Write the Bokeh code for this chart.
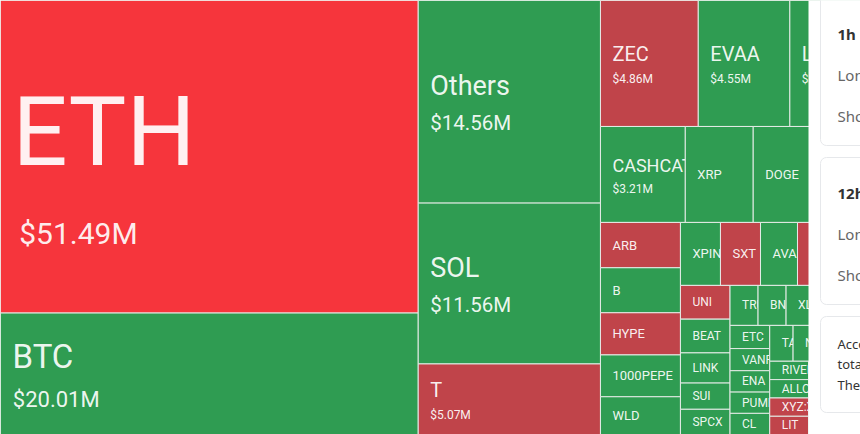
import math
from bokeh.plotting import figure
from bokeh.models import Range1d
from bokeh.embed import file_html
from bokeh.resources import INLINE
from bokeh.core.properties import value

# ---------------- data (liquidations, $M) ----------------
# Order as laid out by the treemap (descending); blank names are tiles hidden under the side panel.
names = ["ETH", "BTC", "Others", "SOL", "T", "ZEC", "EVAA", "LTC",
         "CASHCAT", "XRP", "DOGE", "",
         "ARB", "B", "HYPE", "1000PEPE", "WLD",
         "XPIN", "SXT", "AVAX", "", "",
         "UNI", "BEAT", "LINK", "SUI", "SPCX",
         "TRUMP", "BNB", "XLM", "", "",
         "ETC", "VANRY", "ENA", "PUMP", "CL",
         "TAO", "NEAR", "", "",
         "RIVER", "ALLO", "XYZ:XYZ100", "LIT",
         ""]
values = [51.49, 20.01, 14.56, 11.56, 5.07, 4.86, 4.55, 3.51,
          3.21, 2.57, 2.20, 1.86,
          1.43, 1.42, 1.33, 1.32, 1.19,
          0.994, 0.994, 0.919, 0.85, 0.715,
          0.66, 0.66, 0.59, 0.513, 0.493,
          0.442, 0.442, 0.42, 0.377, 0.377,
          0.363, 0.347, 0.335, 0.333, 0.331,
          0.33, 0.325, 0.32, 0.308,
          0.281, 0.281, 0.28, 0.279,
          1.501]
tones = ["hot", "up", "up", "up", "down", "down", "up", "up",
         "up", "up", "up", "up",
         "down", "up", "down", "up", "up",
         "up", "down", "up", "down", "up",
         "down", "up", "up", "up", "up",
         "up", "up", "up", "up", "up",
         "up", "up", "up", "up", "up",
         "up", "up", "up", "up",
         "up", "up", "down", "down",
         "up"]

panel_cards = [["1h", "Long", "Short"], ["12h", "Long", "Short"]]
panel_note = ["According", "total", "The"]

# ---------------- styling / layout ----------------
W, H = 860, 434
CLIP = 808
COLORS = {"hot": "#F6353C", "down": "#C0444A", "up": "#2F9C52"}
FONT = "Roboto"
GOLDEN = 0.5 * (1 + math.sqrt(5))


def worst(row_areas, row_area, fixed, ratio):
    sq = row_area * row_area
    f = fixed * fixed * ratio
    if not sq:
        return math.inf
    return max(f * max(row_areas) / sq, sq / (f * min(row_areas)))


def squarify(vals, x, y, w, h, ratio=GOLDEN):
    total = sum(vals)
    areas = [v * w * h / total for v in vals]
    rect = {"x": x, "y": y, "w": w, "h": h}
    boxes = [None] * len(vals)

    def place(row, row_area, fixed, flush):
        horiz = fixed == rect["w"]
        other = row_area / fixed if fixed else 0
        span = rect["h"] if horiz else rect["w"]
        if flush or other > span:
            other = span
        start = rect["x"] if horiz else rect["y"]
        end = start + (rect["w"] if horiz else rect["h"])
        last = start
        for j, i in enumerate(row):
            step = areas[i] / other if other else 0
            remain = end - last
            mod = remain if (j == len(row) - 1 or remain < step) else step
            if horiz:
                boxes[i] = (last, rect["y"], mod, other)
            else:
                boxes[i] = (rect["x"], last, other, mod)
            last += mod
        if horiz:
            rect["y"] += other
            rect["h"] -= other
        else:
            rect["x"] += other
            rect["w"] -= other

    row, row_area, score = [], 0.0, math.inf
    fixed = min(w, h)
    i = 0
    while i < len(areas):
        row.append(i)
        row_area += areas[i]
        s = worst([areas[j] for j in row], row_area, fixed, ratio)
        if s <= score:
            score = s
            i += 1
        else:
            row.pop()
            row_area -= areas[i]
            place(row, row_area, fixed, False)
            fixed = min(rect["w"], rect["h"])
            row, row_area, score = [], 0.0, math.inf
    if row:
        place(row, row_area, fixed, True)
    return boxes


def label_sizes(area):
    if area >= 100000:
        return 97, 30
    if area >= 45000:
        return 33, 22
    if area >= 25000:
        return 27, 20.5
    if area >= 8500:
        return 20, 12
    if area >= 7000:
        return 18, 12
    if area >= 2000:
        return 13, None
    return 12, None


boxes = squarify(values, 0, 0, W, H)

p = figure(width=W, height=H, x_range=Range1d(0, W), y_range=Range1d(H, 0),
           output_backend="svg", toolbar_location=None, min_border=0,
           x_axis_type=None, y_axis_type=None)
p.grid.visible = False
p.outline_line_color = None
p.background_fill_color = "#ffffff"
p.border_fill_color = "#ffffff"

for name, v, tone, (bx, by, bw, bh) in zip(names, values, tones, boxes):
    p.quad(left=[bx], right=[bx + bw], top=[by], bottom=[by + bh],
           fill_color=COLORS[tone], line_color="#e4ebe6", line_width=1)
    if not name:
        continue
    fs, vs = label_sizes(bw * bh)
    cy = by + bh / 2
    tx = bx + 12
    if vs:
        p.text(x=[tx], y=[cy - 0.75 * vs - 0.02 * fs], text=[name], text_font=value(FONT),
               text_font_size=f"{fs}px", text_color="#ffffff", text_alpha=0.93,
               text_baseline="middle", text_align="left")
        p.text(x=[tx + max(0.0, 0.1 * (fs - 30))], y=[cy + 0.79 * fs], text=[f"${v:.2f}M"],
               text_font=value(FONT), text_font_size=f"{vs}px", text_color="#ffffff",
               text_alpha=0.93, text_baseline="middle", text_align="left")
    else:
        p.text(x=[tx], y=[cy], text=[name], text_font=value(FONT),
               text_font_size=f"{fs}px", text_color="#ffffff", text_alpha=0.93,
               text_baseline="middle", text_align="left")

# side panel covering the right edge of the treemap
p.quad(left=[CLIP], right=[W + 10], top=[-10], bottom=[H + 10],
       fill_color="#ffffff", line_color=None)
card_tops = [-20, 157]
card_bottoms = [145, 304]
for top, bottom, lines in zip(card_tops, card_bottoms, panel_cards):
    p.quad(left=[820], right=[W + 40], top=[top], bottom=[bottom],
           fill_color="#ffffff", line_color="#e6e8eb", line_width=1, border_radius=6)
    ys = [bottom - 112, bottom - 71, bottom - 30]
    p.text(x=[837], y=[ys[0]], text=[lines[0]], text_font=value("Noto Sans"),
           text_font_size="15px", text_color="#333333", text_font_style="bold",
           text_baseline="middle", text_align="left")
    p.text(x=[837, 837], y=ys[1:], text=lines[1:], text_font=value("Noto Sans"),
           text_font_size="15px", text_color="#666666",
           text_baseline="middle", text_align="left")

p.quad(left=[820], right=[W + 40], top=[316], bottom=[412],
       fill_color="#ffffff", line_color="#e6e8eb", line_width=1, border_radius=6)
p.text(x=[837] * 3, y=[343, 363.5, 384], text=panel_note, text_font=value("Noto Sans"),
       text_font_size="13px", text_color="#333333",
       text_baseline="middle", text_align="left")

open("out.html", "w").write(file_html(p, INLINE))
